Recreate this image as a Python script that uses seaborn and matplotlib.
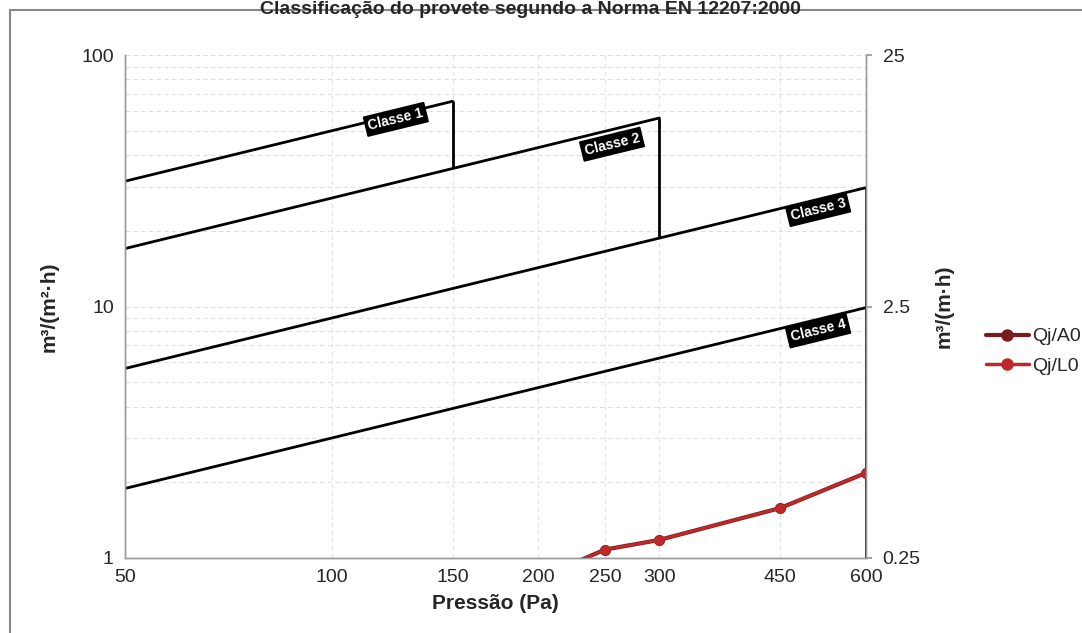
import matplotlib
matplotlib.use("Agg")
import matplotlib.pyplot as plt
import matplotlib.ticker as mticker
from matplotlib.lines import Line2D
import seaborn as sns
import pandas as pd

# ---- data ----
pressures = [50, 100, 150, 200, 250, 300, 450, 600]
qj_a0 = [0.38, 0.52, 0.66, 0.83, 1.08, 1.18, 1.58, 2.18]     # m3/(m2.h), left axis
qj_l0 = [0.095, 0.13, 0.165, 0.2075, 0.27, 0.295, 0.395, 0.545]  # m3/(m.h), right axis

class_names = ["Classe 1", "Classe 2", "Classe 3", "Classe 4"]
class_p = [[50, 150], [50, 300], [50, 600], [50, 600]]
class_q = [[31.5, 65.5], [17.0, 56.2], [5.67, 29.7], [1.89, 9.9]]
drop_p = [150, 300, 600]
drop_top = [65.5, 56.2, 29.7]
drop_bottom = [35.4, 18.7, 1.0]
label_p = [124, 256, 511, 511]
label_q = [55.5, 44.2, 24.3, 8.0]

x_ticks = [50, 100, 150, 200, 250, 300, 450, 600]
y_ticks = [1, 10, 100]
y2_ticks = [0.25, 2.5, 25]
y2_labels = ["0.25", "2.5", "25"]

sns.set_theme(style="white")
plt.rcParams["font.family"] = ["Liberation Sans", "DejaVu Sans"]

fig = plt.figure(figsize=(10.82, 6.33), dpi=100)
ax = fig.add_axes([0.1155, 0.1185, 0.6849, 0.7945])
ax2 = ax.twinx()

ax.set_xscale("log")
ax.set_yscale("log")
ax2.set_yscale("log")
ax.set_xlim(50, 600)
ax.set_ylim(1, 100)
ax2.set_ylim(0.25, 25)

# grid
ax.yaxis.set_minor_locator(mticker.LogLocator(base=10, subs=range(2, 10)))
ax.grid(True, which="minor", axis="y", color="#dedede", linestyle=(0, (4, 3)), linewidth=0.8)
ax.grid(True, which="major", axis="y", color="#dedede", linestyle=(0, (4, 3)), linewidth=0.8)
for xv in x_ticks[1:-1]:
    ax.axvline(xv, color="#e4e4e4", linestyle=(0, (4, 3)), linewidth=0.8, zorder=0)

# class lines
for i in range(4):
    df = pd.DataFrame({"p": class_p[i], "q": class_q[i]})
    sns.lineplot(data=df, x="p", y="q", ax=ax, color="black", linewidth=2.0, legend=False)
for i in range(3):
    ax.vlines(drop_p[i], drop_bottom[i], drop_top[i], color="black", linewidth=2.0)

for i in range(4):
    ax.text(label_p[i], label_q[i], class_names[i], rotation=13.7, rotation_mode="anchor",
            ha="center", va="center", color="white", fontsize=10, fontweight="bold",
            bbox=dict(boxstyle="square,pad=0.2", fc="black", ec="black"))

# data series
df1 = pd.DataFrame({"p": pressures, "q": qj_a0})
df2 = pd.DataFrame({"p": pressures, "q": qj_l0})
sns.lineplot(data=df1, x="p", y="q", ax=ax, color="#7b1c1c", linewidth=3.0,
             marker="o", markersize=8, markeredgewidth=0, legend=False, clip_on=True)
sns.lineplot(data=df2, x="p", y="q", ax=ax2, color="#c0282a", linewidth=2.0,
             marker="o", markersize=7, markeredgewidth=0, legend=False, clip_on=True)

# ticks
ax.set_xticks(x_ticks)
ax.set_xticklabels([str(v) for v in x_ticks])
ax.xaxis.set_minor_locator(mticker.NullLocator())
ax.set_yticks(y_ticks)
ax.set_yticklabels([str(v) for v in y_ticks])
ax.tick_params(axis="both", which="both", length=0, labelsize=14, pad=8)
ax.tick_params(axis="y", which="minor", length=0)
ax2.set_yticks(y2_ticks)
ax2.set_yticklabels(y2_labels)
ax2.yaxis.set_minor_locator(mticker.NullLocator())
ax2.tick_params(axis="y", length=4, color="#999999", labelsize=14, pad=8)

for a in (ax, ax2):
    a.spines["top"].set_visible(False)
    for s in ("left", "bottom", "right"):
        a.spines[s].set_color("#9a9a9a")
        a.spines[s].set_linewidth(1.0)

ax.set_xlabel("Pressão (Pa)", fontsize=15, fontweight="bold", labelpad=6)
ax.set_ylabel("m³/(m²·h)", fontsize=15, fontweight="bold", labelpad=16)
ax2.set_ylabel("m³/(m·h)", fontsize=15, fontweight="bold", labelpad=10)

# legend
handles = [Line2D([0], [0], color="#7b1c1c", lw=3, marker="o", markersize=8),
           Line2D([0], [0], color="#c0282a", lw=2.5, marker="o", markersize=8)]
fig.legend(handles, ["Qj/A0", "Qj/L0"], loc="center left", bbox_to_anchor=(0.895, 0.445),
           frameon=False, fontsize=14, handlelength=2.2, handletextpad=0.2, labelspacing=0.6)

# title
fig.text(0.49, 0.999, "Classificação do provete segundo a Norma EN 12207:2000",
         ha="center", va="top", fontsize=14, fontweight="bold")

# frame lines
fig.add_artist(Line2D([0.0095, 0.0095], [0.0, 0.984], transform=fig.transFigure, color="#888888", lw=1.5))
fig.add_artist(Line2D([0.0095, 1.0], [0.984, 0.984], transform=fig.transFigure, color="#888888", lw=1.5))

fig.savefig("out.png", dpi=100)
